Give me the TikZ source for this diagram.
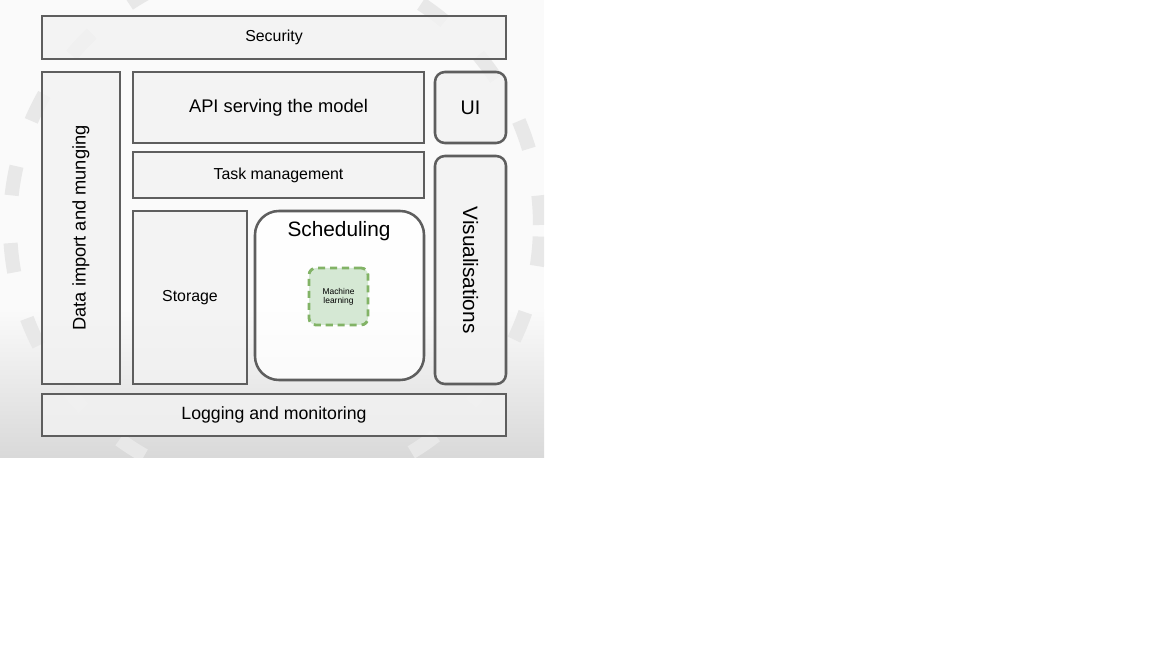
\documentclass[tikz,border=0pt]{standalone}
\usepackage{fontspec}
\setmainfont{Liberation Sans}
\usetikzlibrary{backgrounds}
\newcommand{\px}{0.025cm}
\definecolor{edge}{HTML}{5E5E5E}
\definecolor{mlfill}{HTML}{D5E8D4}
\definecolor{mledge}{HTML}{82B366}
\tikzset{
  box/.style={draw=edge, line width=1.8pt, fill=black!5, fill opacity=0.8, text opacity=1, align=center, inner sep=0pt},
  rbox/.style={box, rounded corners=7pt},
  ml/.style={draw=mledge, fill=mlfill, line width=2pt, dash pattern=on 5pt off 3.5pt, rounded corners=5pt, align=center, inner sep=0pt, font=\fontsize{6}{6.5}\selectfont},
  big/.style={font=\fontsize{13}{15}\selectfont},
  small/.style={font=\fontsize{11.3}{13}\selectfont},
  ring/.style={draw=black!9, line width=10pt, dash pattern=on 21pt off 34pt},
}

\begin{document}
\begin{tikzpicture}[x=\px, y=-\px]
  \useasboundingbox (0,0) rectangle (1152,648);
  % backdrop of the slide
  \fill[white] (0,0) rectangle (1152,648);
  \fill[black!2] (0,0) rectangle (544,310);
  \shade[top color=black!2, bottom color=black!15] (0,310) rectangle (544,458);
  \begin{scope}
    \clip (0,0) rectangle (544,458);
    \draw[ring] (275,225) circle [radius=265*\px];
  \end{scope}

  % layers
  \node[box, small, minimum width=464*\px, minimum height=43*\px] (security) at (274,37.5) {Security};
  \node[box, big, rotate=90, minimum width=312*\px, minimum height=78*\px] (data) at (81,228) {Data import and munging};
  \node[box, big, minimum width=291*\px, minimum height=71*\px] (api) at (278.5,107.5) {API serving the model};
  \node[rbox, big, font=\fontsize{14}{16}\selectfont, minimum width=71*\px, minimum height=71*\px] (ui) at (470.5,107.5) {UI};
  \node[box, small, minimum width=291*\px, minimum height=46*\px] (task) at (278.5,175) {Task management};
  \node[box, small, minimum width=114*\px, minimum height=173*\px] (storage) at (190,297.5) {Storage};
  \node[rbox, fill=white, rounded corners=17pt, minimum width=169*\px, minimum height=169*\px] (sched) at (339.5,295.5) {};
  \node[font=\fontsize{14.8}{16}\selectfont] (schedlbl) at (339,231) {Scheduling};
  \node[ml, minimum width=59*\px, minimum height=57*\px] (learn) at (338.5,296.5) {Machine\\learning};
  \node[rbox, rotate=-90, font=\fontsize{14.8}{16}\selectfont, minimum width=228*\px, minimum height=71*\px] (vis) at (470.5,270) {Visualisations};
  \node[box, big, font=\fontsize{12.6}{14}\selectfont, minimum width=464*\px, minimum height=42*\px] (logging) at (274,415) {Logging and monitoring};
\end{tikzpicture}
\end{document}
